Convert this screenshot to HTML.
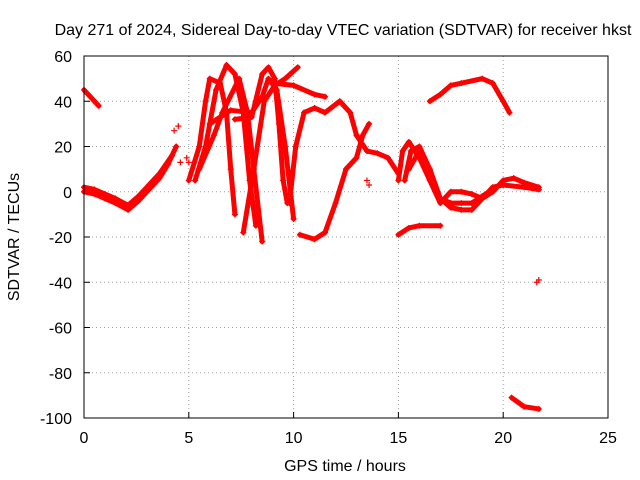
<!DOCTYPE html>
<html><head><meta charset="utf-8"><style>
body{margin:0;background:#fff;}
svg{display:block;font-family:"Liberation Sans",sans-serif;}
</style></head><body>
<svg id="chart" width="640" height="480">
<text x="343" y="35" font-size="16" text-anchor="middle">Day 271 of 2024, Sidereal Day-to-day VTEC variation (SDTVAR) for receiver hkst</text>
<text x="345" y="471" font-size="16" text-anchor="middle">GPS time / hours</text>
<text x="0" y="0" font-size="16" text-anchor="middle" transform="translate(19,237) rotate(-90)">SDTVAR / TECUs</text>
<g id="grid"></g>
<g id="series"></g>
<rect x="84" y="56" width="524" height="362" fill="none" stroke="#000" stroke-width="1"/>
</svg>
<script>
const xTicks=[0,5,10,15,20,25];
const yTicks=[-100,-80,-60,-40,-20,0,20,40,60];
const sA_x=[0,0.3,0.7];const sA_y=[45,42,38];
const sB_x=[0,0.5,1,1.5,2.1,2.6,3.1,3.6,4.0,4.4];const sB_y=[0,-1,-3,-5,-8,-4,1,6,12,20];
const sB2_x=[0,0.5,1,1.5,2.1,2.6,3.1,3.6,4.2];const sB2_y=[2,1,-1,-3,-6,-2,3,8,16];
const sC_x=[5.0,5.5,5.8,6.0,6.5,6.8,7.0,7.2];const sC_y=[5,20,40,50,48,35,10,-10];
const sD_x=[5.3,5.8,6.3,6.8,7.2,7.6,7.9,8.2];const sD_y=[5,20,45,56,52,35,5,-15];
const sE_x=[5.5,6.2,6.6,7.4,7.8,8.1,8.5];const sE_y=[10,25,35,50,35,10,-22];
const sF_x=[6,7,8,8.5,8.8,9.2,9.6,10];const sF_y=[30,36,35,42,50,45,20,-12];
const sG_x=[7.2,8,8.5,8.8,9.1,9.3,9.5,9.7];const sG_y=[32,33,52,55,50,30,5,-5];
const sH_x=[7.6,8.1,8.6,9.1,9.6,10.2];const sH_y=[-18,10,40,47,50,55];
const sI_x=[9,10,11,11.5];const sI_y=[48,47,43,42];
const sJ_x=[9.8,10.1,10.5,11,11.5,12.2,12.7,13];const sJ_y=[-5,20,35,37,35,40,35,25];
const sK_x=[10.3,11,11.5,12,12.5,13,13.3,13.6];const sK_y=[-19,-21,-18,-5,10,15,25,30];
const sL_x=[13,13.5,14,14.5,15];const sL_y=[25,18,17,15,8];
const sM_x=[15,15.5,16,17];const sM_y=[-19,-16,-15,-15];
const sN_x=[15,15.2,15.5,16,16.5,17,17.5,18,18.5,19,19.5,20,20.5,21,21.7];const sN_y=[5,18,22,15,5,-5,0,0,-1,-3,0,5,6,4,2];
const sO_x=[15.3,15.6,16,16.5,17,17.5,18,18.5,19,19.5,20,21,21.7];const sO_y=[5,18,20,10,-3,-7,-8,-8,-3,2,3,2,1];
const sP_x=[15.5,16,16.5,17,17.5,18,18.5,19,19.5];const sP_y=[10,18,5,-3,-5,-5,-5,-2,1];
const sQ_x=[16.5,17,17.5,18,19,19.5,20,20.3];const sQ_y=[40,43,47,48,50,48,40,35];
const sR_x=[20.4,21,21.7];const sR_y=[-91,-95,-96];
const sS_x=[21.6,21.7,4.3,4.5,4.6,5,4.9,13.5,13.6];const sS_y=[-40,-39,27,29,13,13,15,5,3];
const lineSeries=[[sA_x,sA_y],[sB_x,sB_y],[sB2_x,sB2_y],[sC_x,sC_y],[sD_x,sD_y],[sE_x,sE_y],[sF_x,sF_y],[sG_x,sG_y],[sH_x,sH_y],[sI_x,sI_y],[sJ_x,sJ_y],[sK_x,sK_y],[sL_x,sL_y],[sM_x,sM_y],[sN_x,sN_y],[sO_x,sO_y],[sP_x,sP_y],[sQ_x,sQ_y],[sR_x,sR_y]];
const NS="http://www.w3.org/2000/svg";
function xs(v){return 84+(v-0)*524/25;}
function ys(v){return 418-(v+100)*362/160;}
const grid=document.getElementById('grid');
function mk(tag,attrs,parent){const e=document.createElementNS(NS,tag);for(const k in attrs)e.setAttribute(k,attrs[k]);parent.appendChild(e);return e;}
xTicks.forEach(t=>{
  const x=xs(t);
  if(t>0&&t<25){const g=mk('line',{x1:x,x2:x,y1:56,y2:418,stroke:'#a0a0a0','stroke-dasharray':'1,3'},grid);
  
  }
  const tk=mk('line',{x1:x,x2:x,y1:418,y2:412,stroke:'#000'},grid);
  
  
  const lb=mk('text',{x:x,y:443,'font-size':16,'text-anchor':'middle'},grid);lb.textContent=t;
  
  
});
yTicks.forEach(t=>{
  const y=ys(t);
  if(t>-100&&t<60){const g=mk('line',{x1:84,x2:608,y1:y,y2:y,stroke:'#a0a0a0','stroke-dasharray':'1,3'},grid);
  
  }
  const tk=mk('line',{x1:84,x2:90,y1:y,y2:y,stroke:'#000'},grid);
  
  
  const lb=mk('text',{x:72,y:y+6,'font-size':16,'text-anchor':'end'},grid);lb.textContent=t;
  
  
});
const sg=document.getElementById('series');
function plus(x,y){
  const p=mk('path',{d:`M${x-3},${y}h6M${x},${y-3}v6`,stroke:'#ff0000','stroke-width':1.2},sg);
  
  
}
lineSeries.forEach(([X,Y])=>{
  const pts=X.map((v,i)=>xs(v)+','+ys(Y[i])).join(' ');
  const pl=mk('polyline',{points:pts,fill:'none',stroke:'#ff0000','stroke-width':5,'stroke-linejoin':'round','stroke-linecap':'round'},sg);
  
  
  X.forEach((v,i)=>plus(xs(v),ys(Y[i])));
});
sS_x.forEach((v,i)=>plus(xs(v),ys(sS_y[i])));
</script>
</body></html>
